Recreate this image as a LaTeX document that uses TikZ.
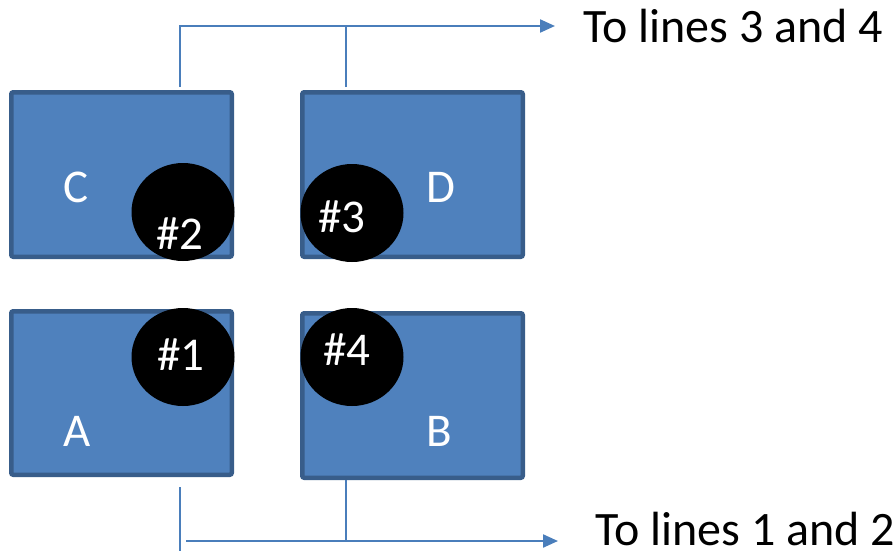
\documentclass[tikz,border=0pt]{standalone}
\usepackage{fontspec}
\setmainfont{Carlito}
\usetikzlibrary{arrows.meta,shapes.geometric}
\definecolor{boxfill}{HTML}{4F81BD}
\definecolor{boxedge}{HTML}{385D8A}
\definecolor{wirecol}{HTML}{4A7EBB}
\tikzset{
  panel/.style={draw=boxedge, fill=boxfill, line width=4.5pt, rounded corners=2pt,
                minimum width=220.5pt, inner sep=0pt},
  spot/.style={ellipse, fill=black, minimum width=103pt, minimum height=98pt, inner sep=0pt},
  lbl/.style={text=white, anchor=base, inner sep=0pt, font=\fontsize{47}{50}\selectfont},
  note/.style={text=black, anchor=base west, inner sep=0pt, font=\fontsize{48}{50}\selectfont},
  wire/.style={draw=wirecol, line width=2.2pt},
  feed/.style={wire, -{Triangle[length=15pt,width=13pt]}}
}
\begin{document}
\begin{tikzpicture}[x=1pt,y=-1pt]
\useasboundingbox (0,0) rectangle (896,554);

% the four panels
\node[panel, minimum height=164.5pt] (C) at (121.5,174.5) {};
\node[panel, minimum height=164.5pt] (D) at (412.5,174.5) {};
\node[panel, minimum height=163.5pt] (A) at (121.5,393) {};
\node[panel, minimum height=164.5pt] (B) at (412.5,395.5) {};

% numbered spots
\node[spot] (s2) at (183,212) {};
\node[spot] (s3) at (352,213) {};
\node[spot] (s1) at (183,357) {};
\node[spot] (s4) at (352,357) {};

% panel letters
\node[lbl] (lC) at (76,202) {C};
\node[lbl] (lD) at (441,202) {D};
\node[lbl] (lA) at (77,446) {A};
\node[lbl] (lB) at (439,446) {B};

% spot numbers
\node[lbl] (n2) at (180,249) {\#2};
\node[lbl] (n3) at (342,232) {\#3};
\node[lbl] (n1) at (181,370) {\#1};
\node[lbl] (n4) at (347,365) {\#4};

% destination notes
\node[note] (t34) at (583,42) {To lines 3 and 4};
\node[note] (t12) at (595,545) {To lines 1 and 2};

% upper feed
\coordinate (cC) at (180,87);
\coordinate (cD) at (346,87);
\coordinate (kT) at (180,26);
\coordinate (jT) at (346,26);
\coordinate (eT) at (555,26);
\draw[feed] (cC) -- (kT) -- (eT);
\draw[wire] (cD) -- (jT);

% lower feed
\coordinate (aTop) at (180,487);
\coordinate (aBot) at (180,551);
\coordinate (sB) at (186,541);
\coordinate (jB) at (346,541);
\coordinate (eB) at (558,541);
\draw[wire] (aTop) -- (aBot);
\draw[wire] (B.south -| jB) -- (jB);
\draw[feed] (sB) -- (eB);
\end{tikzpicture}
\end{document}
